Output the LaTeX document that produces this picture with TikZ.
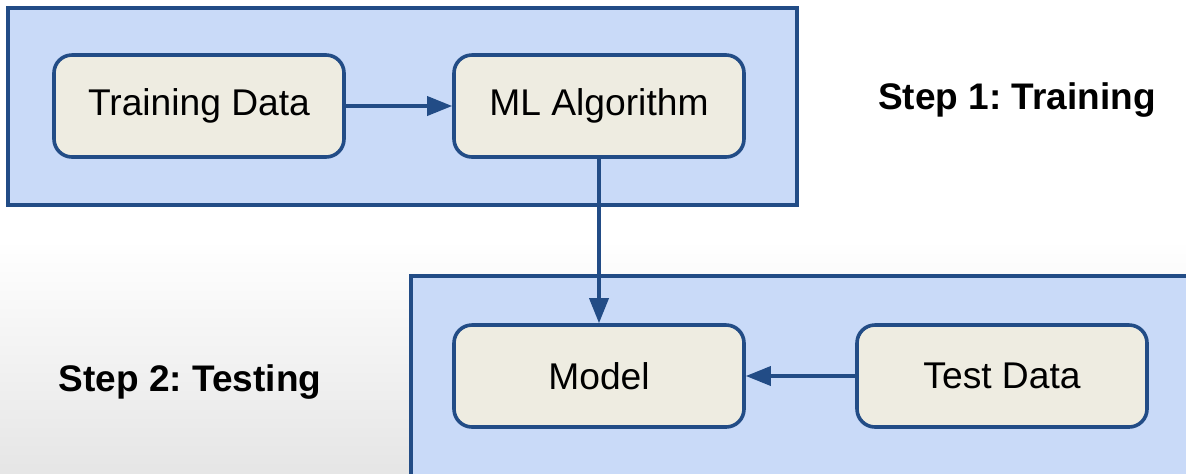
\documentclass[tikz,border=0pt]{standalone}
\usepackage{fontspec}
\setmainfont{Liberation Sans}
\usetikzlibrary{arrows.meta}
\frenchspacing
\definecolor{boxblue}{HTML}{C9DAF8}
\definecolor{edgeblue}{HTML}{224C86}
\definecolor{nodebeige}{HTML}{EEECE1}
\tikzset{
  stepframe/.style={draw=edgeblue, line width=1.8pt, fill=boxblue},
  procbox/.style={draw=edgeblue, line width=1.8pt, fill=nodebeige, rounded corners=9pt,
    minimum width=145pt, minimum height=51pt, inner sep=0pt,
    font=\fontsize{18.6pt}{22pt}\selectfont},
  steplabel/.style={font=\fontsize{18.5pt}{22pt}\selectfont\bfseries, inner sep=0pt},
  flow/.style={draw=edgeblue, line width=1.8pt, -{Triangle[length=12.5pt,width=9.5pt]}}
}
\begin{document}
\begin{tikzpicture}[x=0.5pt,y=-0.5pt]
\useasboundingbox (0,0) rectangle (1186,473);
\clip (0,0) rectangle (1186,473);
\fill[white] (0,0) rectangle (1186,473);
\shade[top color=white, bottom color=black!10] (0,240) rectangle (1186,473);
\draw[stepframe] (8,8) rectangle (797,205);
\draw[stepframe] (411,276) rectangle (1200,490);
\node[procbox] (train) at (199,106) {Training Data};
\node[procbox] (algo) at (599,106) {ML Algorithm};
\node[procbox] (model) at (599,376) {Model};
\node[procbox] (test) at (1002,376) {Test Data};
\node[steplabel] (s1) at (1017,100) {Step 1: Training};
\node[steplabel] (s2) at (190,382) {Step 2: Testing};
\draw[flow] (train) -- (algo);
\draw[flow] (algo) -- (model);
\draw[flow] (test) -- (model);
\end{tikzpicture}
\end{document}
